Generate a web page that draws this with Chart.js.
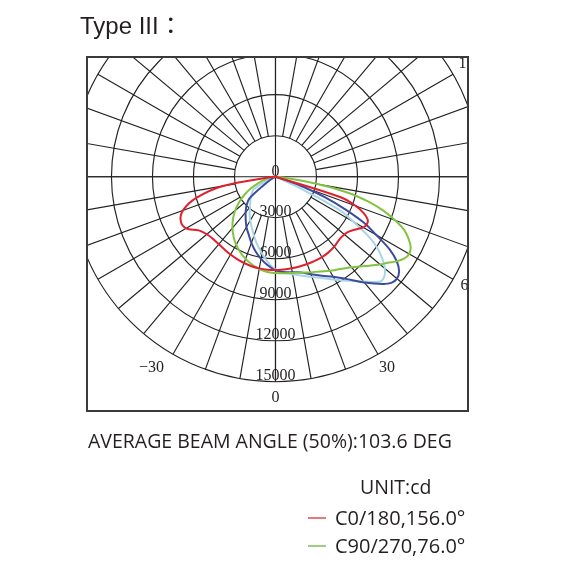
<!DOCTYPE html>
<html>
<head>
<meta charset="utf-8">
<script src="https://cdn.jsdelivr.net/npm/chart.js@4.4.1/dist/chart.umd.min.js"></script>
<style>
  body { margin: 0; background: #fff; }
  #wrap { position: relative; width: 567px; height: 567px; }
  #wrap canvas { position: absolute; left: 0; top: 0; }
  .txt { position: absolute; white-space: nowrap; line-height: 1; color: #231f20; font-family: "Open Sans", sans-serif; }
  #title { left: 80px; top: 14px; font: 24px "Liberation Sans", "Noto Sans CJK JP", sans-serif; line-height: 1; }
  #beam { left: 88px; top: 431px; font-size: 19.5px; }
  #unit { left: 360px; top: 477px; font-size: 19.5px; }
  .leg { left: 335px; font-size: 20px; }
  .dash { position: absolute; left: 308px; width: 18px; height: 1.5px; }
</style>
</head>
<body>
<div id="wrap">
  <canvas id="chart" width="567" height="567"></canvas>
  <div class="txt" id="title">Type III：</div>
  <div class="txt" id="beam">AVERAGE BEAM ANGLE (50%):103.6 DEG</div>
  <div class="txt" id="unit">UNIT:cd</div>
  <div class="dash" style="top:517px;background:#e8787c"></div>
  <div class="txt leg" style="top:508px">C0/180,156.0°</div>
  <div class="dash" style="top:545px;background:#9ccf82"></div>
  <div class="txt leg" style="top:536px">C90/270,76.0°</div>
</div>
<script>
// ===== Data (angle from nadir in degrees, intensity in cd) =====
const angles = [-90, -85, -80, -75, -70, -65, -60, -55, -50, -45, -40, -35, -30, -25, -20, -15, -10, -5,
  0, 5, 10, 15, 20, 25, 30, 35, 40, 45, 47.5, 50, 52.5, 55, 57.5, 60, 62.5, 65, 67.5, 70, 72.5, 75, 77.5, 80, 85, 90];

const c0_180 = [0, 300, 3900, 6000, 7200, 7650, 7550, 6850, 6550, 6450, 6450, 6500, 6580, 6650, 6720, 6780, 6810, 6830,
  6830, 6810, 6800, 6800, 6800, 6800, 6800, 6760, 6680, 6560, 6540, 6580, 6660, 6850, 7120, 7420, 7540, 7450, 7000, 6250, 5000, 0, 0, 0, 0, 0];

const c90_270 = [0, 150, 400, 800, 1300, 1950, 2600, 3250, 3850, 4400, 4900, 5350, 5750, 6100, 6400, 6650, 6850, 7000,
  7050, 7100, 7150, 7250, 7450, 7650, 7950, 8250, 8650, 9250, 9600, 10000, 10350, 10800, 11150, 11300, 11150, 10750, 10200, 9300, 8300, 7000, 5500, 3200, 400, 0];

const cNavy = [0, 0, 0, 0, 0, 0, 300, 900, 2500, 3000, 3400, 3800, 4250, 4650, 5150, 5650, 6100, 6500,
  6850, 7000, 7100, 7250, 7600, 8000, 8450, 9150, 10100, 11100, 11500, 11600, 11400, 10850, 9900, 8500, 7300, 5600, 3900, 2200, 800, 0, 0, 0, 0, 0];

const cLight = [0, 0, 0, 0, 0, 800, 1850, 2100, 2350, 2600, 2900, 3300, 3700, 4100, 4600, 5150, 5700, 6300,
  6800, 7050, 7250, 7500, 7800, 8200, 8700, 9300, 10000, 10850, 10800, 10450, 9850, 9100, 8000, 6600, 5300, 2000, 0, 0, 0, 0, 0, 0, 0, 0];

const ringValues = [3000, 6000, 9000, 12000, 15000];
const angleTicks = [-150, -120, -90, -60, -30, 0, 30, 60, 90, 120, 150, 180];

// axis window (cd), centre of the diagram at 0,0
const xMin = -13790, xMax = 14085;
const yMin = -17145, yMax = 8760;

function toXY(vals) {
  return vals.map((v, i) => {
    const t = angles[i] * Math.PI / 180;
    return { x: v * Math.sin(t), y: -v * Math.cos(t) };
  });
}

// ===== Polar grid =====
const polarGrid = {
  id: 'polarGrid',
  beforeDatasetsDraw(chart) {
    const { ctx, chartArea: a, scales: { x, y } } = chart;
    const pt = (deg, r) => {
      const t = deg * Math.PI / 180;
      return [x.getPixelForValue(r * Math.sin(t)), y.getPixelForValue(-r * Math.cos(t))];
    };
    const [cx, cy] = pt(0, 0);
    const outer = ringValues[ringValues.length - 1];

    ctx.save();
    ctx.beginPath();
    ctx.rect(a.left, a.top, a.right - a.left, a.bottom - a.top);
    ctx.clip();

    ctx.strokeStyle = '#222';
    ctx.lineWidth = 1.15;
    ringValues.forEach(r => {
      ctx.beginPath();
      ctx.arc(cx, cy, x.getPixelForValue(r) - cx, 0, Math.PI * 2);
      ctx.stroke();
    });

    for (let d = 0; d < 360; d += 10) {
      const p1 = pt(d, ringValues[0]), p2 = pt(d, outer);
      ctx.beginPath();
      ctx.moveTo(p1[0], p1[1]);
      ctx.lineTo(p2[0], p2[1]);
      ctx.stroke();
    }
    // main axes
    ctx.beginPath();
    ctx.moveTo(a.left, cy); ctx.lineTo(a.right, cy);
    ctx.moveTo(cx, a.top); ctx.lineTo(cx, pt(0, outer)[1]);
    ctx.stroke();

    // intensity labels
    ctx.fillStyle = '#231f20';
    ctx.font = '16px "Liberation Serif", serif';
    ctx.textAlign = 'center';
    ctx.textBaseline = 'alphabetic';
    ctx.fillText('0', cx, cy - 1);
    ringValues.forEach(r => ctx.fillText(String(r), cx, pt(0, r)[1] - 2));

    // angle labels
    ctx.textBaseline = 'middle';
    angleTicks.forEach(d => {
      const p = pt(d, 16300);
      ctx.textAlign = d < 0 ? 'right' : 'center';
      ctx.fillText(d < 0 ? '\u2212' + Math.abs(d) : String(d), p[0] + (d > 90 ? 2 : 0), p[1] - 2);
    });
    ctx.restore();
  },
  afterDraw(chart) {
    const { ctx, chartArea: a } = chart;
    ctx.save();
    ctx.strokeStyle = '#3a3a3a';
    ctx.lineWidth = 2;
    ctx.strokeRect(a.left, a.top, a.right - a.left, a.bottom - a.top);
    ctx.restore();
  }
};

const line = (label, vals, color) => ({
  label,
  data: toXY(vals),
  showLine: true,
  borderColor: color,
  borderWidth: 2,
  pointRadius: 0,
  tension: 0.35,
  fill: false
});

new Chart(document.getElementById('chart'), {
  type: 'scatter',
  data: {
    datasets: [
      line('C0/180', c0_180, '#e0202c'),
      line('C90/270', c90_270, '#82c341'),
      line('C45', cNavy, '#3c4c9e'),
      line('C135', cLight, '#a9d6e6')
    ]
  },
  options: {
    responsive: false,
    animation: false,
    devicePixelRatio: 1,
    layout: { padding: { left: 87, top: 57, right: 99, bottom: 156 } },
    scales: {
      x: { type: 'linear', min: xMin, max: xMax, display: false },
      y: { type: 'linear', min: yMin, max: yMax, display: false }
    },
    plugins: { legend: { display: false }, tooltip: { enabled: false } }
  },
  plugins: [polarGrid]
});
</script>
</body>
</html>
